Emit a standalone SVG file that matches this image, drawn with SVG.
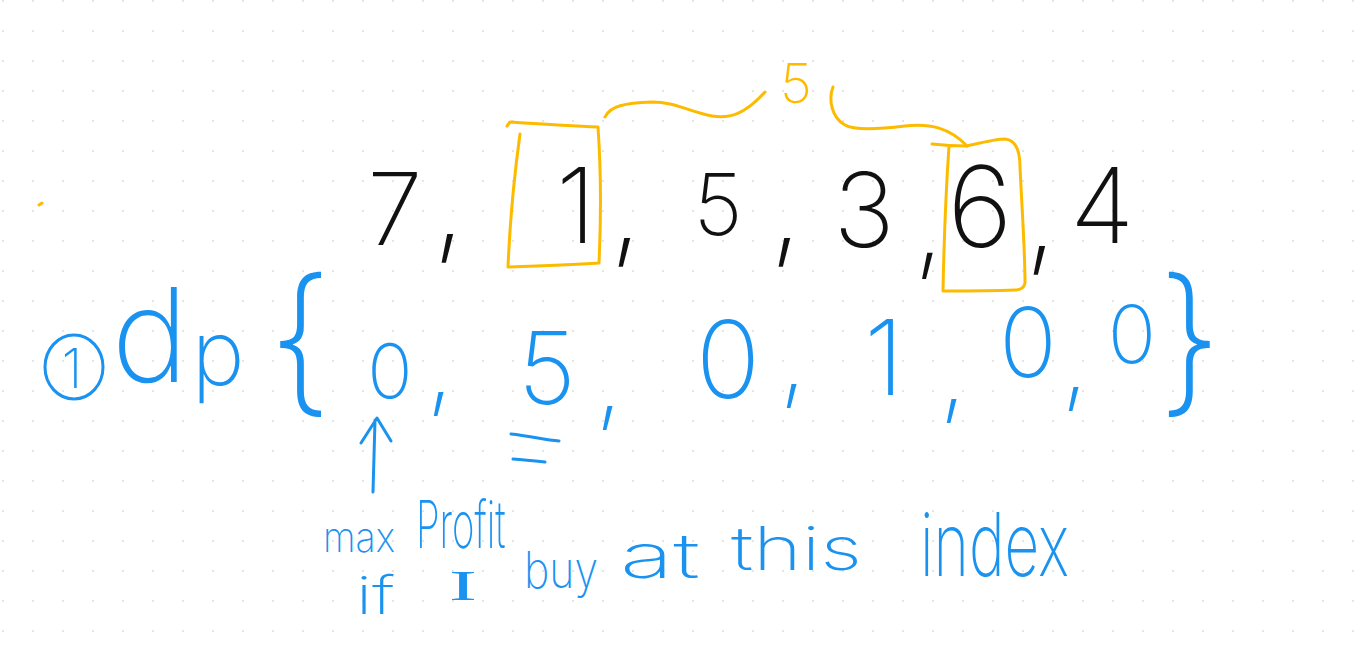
<svg xmlns="http://www.w3.org/2000/svg" width="1369" height="658" viewBox="0 0 1369 658">
<style>
.k{fill:#111;font-family:Inter,Lato,"Open Sans","DejaVu Sans",sans-serif;font-weight:200;text-anchor:middle}
.b{fill:#1a93f0;font-family:Inter,Lato,"Open Sans","DejaVu Sans",sans-serif;font-weight:200;text-anchor:middle}
.y{fill:#fdbb00;font-family:Inter,Lato,"Open Sans","DejaVu Sans",sans-serif;font-weight:200;text-anchor:middle}
.ys{fill:none;stroke:#fdbb00;stroke-width:3;stroke-linecap:round;stroke-linejoin:round}
.bs{fill:none;stroke:#1a93f0;stroke-width:3;stroke-linecap:round;stroke-linejoin:round}
.w{text-anchor:start}
.sf{font-family:"Liberation Serif",serif;font-weight:normal}
</style>
<defs>
<pattern id="grid" patternUnits="userSpaceOnUse" x="-12" y="-14" width="30" height="30">
<rect x="14" y="14.5" width="2" height="1" fill="#dcdcdc"/>
<rect x="14.5" y="14" width="1" height="2" fill="#dcdcdc"/>
</pattern>
</defs>
<rect width="1369" height="658" fill="#fff"/>
<rect width="1369" height="658" fill="url(#grid)"/>
<g id="prices">
<text class="k" x="395" y="245" font-size="100">7</text>
<text class="k" x="449" y="244" font-size="120">,</text>
<text class="k" x="576" y="243" font-size="105">1</text>
<text class="k" x="626" y="248" font-size="120">,</text>
<text class="k" x="718" y="235" font-size="85">5</text>
<text class="k" x="786" y="248" font-size="120">,</text>
<text class="k" x="864" y="247" font-size="103">3</text>
<text class="k" x="929" y="262" font-size="110">,</text>
<text class="k" x="980" y="247" font-size="112">6</text>
<text class="k" x="1041" y="256" font-size="120">,</text>
<text class="k" x="1102" y="243" font-size="105">4</text>
</g>
<g id="buy-box">
<path class="ys" d="M507,126 L510,122 C540,124 570,126 598,127 C601,170 601,220 599,263 C570,265 540,266 508,267 C510,220 515,170 520,134"/>
</g>
<g id="sell-box">
<path class="ys" d="M932,144 C950,146 960,146 967,146 C980,143 995,139 1005,139 C1015,140 1020,150 1020,167 C1022,210 1025,250 1025,283 C1024,288 1020,290 1015,290 C990,291 965,291 943,291 C944,240 946,190 949,146"/>
</g>
<g id="profit-label">
<text class="y" x="796" y="103" font-size="55">5</text>
</g>
<g id="connectors">
<path class="ys" d="M605,117 C610,106 625,103 652,102 C675,102 690,112 712,116 C730,119 745,114 765,92"/>
<path class="ys" d="M833,87 C828,100 832,118 845,125 C855,131 880,129 905,126 C930,123 950,128 967,146"/>
<path class="ys" d="M39,205 L42,203"/>
<path class="bs" d="M373,492 L375,420 M361,443 L377,418 L391,441"/>
<path class="bs" d="M511,434 C530,436 545,440 559,441 M513,459 C525,460 535,461 545,462"/>
</g>
<g id="dp-array">
<ellipse class="bs" cx="74" cy="367" rx="29" ry="32"/>
<text class="b" x="72" y="388" font-size="55">1</text>
<text class="b" x="150" y="382" font-size="130">d</text>
<text class="b" x="218" y="385" font-size="90">p</text>
<text class="b" x="300" y="395" font-size="160">{</text>
<text class="b" x="390" y="398" font-size="75">0</text>
<text class="b" x="440" y="400" font-size="100">,</text>
<text class="b" x="547" y="404" font-size="100">5</text>
<text class="b" x="609" y="414" font-size="100">,</text>
<text class="b" x="728" y="398" font-size="107">0</text>
<text class="b" x="793" y="392" font-size="100">,</text>
<text class="b" x="884" y="395" font-size="105">1</text>
<text class="b" x="953" y="407" font-size="100">,</text>
<text class="b" x="1028" y="377" font-size="96">0</text>
<text class="b" x="1075" y="395" font-size="100">,</text>
<text class="b" x="1132" y="363" font-size="80">0</text>
<text class="b" x="1190" y="395" font-size="160">}</text>
</g>
<g id="annotation">
<text class="b w" x="323" y="552" font-size="42" textLength="72" lengthAdjust="spacingAndGlyphs">max</text>
<text class="b w" transform="translate(416,548) scale(0.58,1)" x="0" y="0" font-size="66">Profit</text>
<text class="b w" x="356" y="614" font-size="52" textLength="39" lengthAdjust="spacingAndGlyphs">if</text>
<text class="b w sf" x="449" y="600" font-size="42" textLength="28" lengthAdjust="spacingAndGlyphs">I</text>
<text class="b w" x="524" y="588" font-size="50" textLength="74" lengthAdjust="spacingAndGlyphs">buy</text>
<text class="b w" x="620" y="578" font-size="62" textLength="80" lengthAdjust="spacingAndGlyphs">at</text>
<text class="b w" x="731" y="570" font-size="60" textLength="131" lengthAdjust="spacingAndGlyphs">this</text>
<text class="b w" x="920" y="576" font-size="88" textLength="149" lengthAdjust="spacingAndGlyphs">index</text>
</g>
</svg>
